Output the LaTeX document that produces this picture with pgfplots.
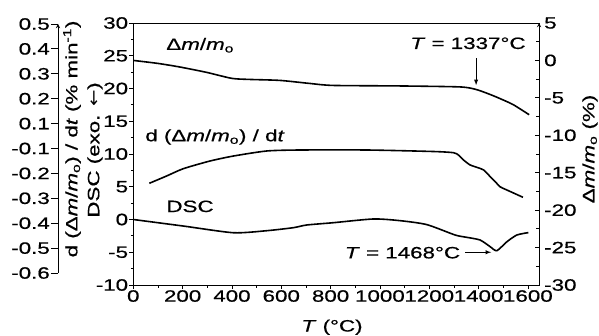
\documentclass[border=0pt]{standalone}
\usepackage{fontspec}
\setmainfont{Liberation Sans}[FakeStretch=1.36, FakeBold=0.6]
\newfontfamily\dejavu{DejaVu Sans}[FakeStretch=1.2]
\usepackage{pgfplots}
\pgfplotsset{compat=1.18}

\pgfplotstableread{
T v
0 0.0
100 -0.40
189 -0.88
298 -1.60
400 -2.40
473 -2.54
595 -2.67
717 -3.08
810 -3.34
1082 -3.41
1325 -3.54
1390 -3.88
1447 -4.55
1487 -5.10
1540 -5.90
1605 -7.25
}\massloss

\pgfplotstableread{
T v
65 5.53
135 6.64
203 7.76
311 8.93
406 9.69
541 10.46
676 10.61
947 10.61
1217 10.38
1298 10.20
1318 9.85
1339 9.08
1366 8.32
1393 7.97
1420 7.57
1447 6.55
1467 5.80
1487 5.00
1515 4.50
1580 3.39
}\deriv

\pgfplotstableread{
T v
0 0.0
203 -1.00
406 -2.02
541 -1.71
649 -1.25
703 -0.84
811 -0.49
974 0.08
1082 -0.18
1190 -0.78
1305 -2.37
1352 -2.72
1406 -3.13
1447 -4.15
1474 -4.76
1515 -3.39
1555 -2.37
1602 -2.00
}\dsc

\pgfplotsset{
  every axis/.append style={font=\fontsize{16.5}{19}\selectfont},
  myaxis/.style={
    scale only axis,
    /pgf/number format/assume math mode=true,
    /pgf/number format/1000 sep={},
    every tick/.style={black, line width=0.8bp},
    axis line style={line width=0.9bp},
    x axis line style={-}, y axis line style={-},
  },
}

\begin{document}
\begin{tikzpicture}[font=\fontsize{16.5}{19}\selectfont]
\useasboundingbox (0,0) rectangle (599bp,336bp);

% outer left axis: d(dm/m0)/dt
\begin{axis}[myaxis,
  at={(58bp,63bp)}, anchor=south west,
  width=20bp, height=249bp,
  xmin=0, xmax=1, ymin=0, ymax=10,
  axis x line=none, axis y line=left,
  ytick={0,1,...,10},
  yticklabels={-0.6,-0.5,-0.4,-0.3,-0.2,-0.1,0.1,0.2,0.3,0.4,0.5},
  tick align=outside, major tick length=7bp,
  yticklabel style={inner sep=1bp},
]
\end{axis}

% main axis: DSC
\begin{axis}[myaxis,
  at={(133.3bp,51bp)}, anchor=south west,
  width=405.7bp, height=262bp,
  xmin=0, xmax=1645, ymin=-10, ymax=30,
  xtick={0,200,...,1600}, minor x tick num=1,
  ytick={-10,-5,...,30}, minor y tick num=1,
  tick pos=left, tick align=outside,
  major tick length=4bp, minor tick length=2.5bp,
  xticklabel style={inner sep=1bp},
  yticklabel style={inner sep=1bp},
  clip=false,
]
\addplot[black, line width=1.6bp, smooth, tension=0.4] table[x=T,y=v] {\deriv};
\addplot[black, line width=1.6bp, smooth, tension=0.4] table[x=T,y=v] {\dsc};
\node at (axis cs:271,26.6) {Δ\textit{m}/\textit{m}\textsubscript{o}};
\node at (axis cs:331,12.6) {d (Δ\textit{m}/\textit{m}\textsubscript{o}) / d\textit{t}};
\node at (axis cs:230,2.0) {DSC};
\node at (axis cs:1357,26.9) {\textit{T} = 1337°C};
\draw[-latex, line width=0.9bp] (axis cs:1390,24.6) -- (axis cs:1390,20.5);
\node[anchor=east, inner sep=0pt] at (axis cs:1326,-5.07) {\textit{T} = 1468°C};
\draw[-latex, line width=0.9bp] (axis cs:1345,-5.0) -- (axis cs:1451,-5.0);
\end{axis}

% right axis: mass loss
\begin{axis}[myaxis,
  at={(133.3bp,51bp)}, anchor=south west,
  width=405.7bp, height=262bp,
  xmin=0, xmax=1645, ymin=-30, ymax=5,
  axis x line=none, axis y line=right,
  ytick={-30,-25,...,5}, minor y tick num=1,
  tick align=inside,
  major tick length=4bp, minor tick length=3bp,
  yticklabel style={inner sep=1bp, xshift=4bp},
]
\addplot[black, line width=1.6bp, smooth, tension=0.4] table[x=T,y=v] {\massloss};
\end{axis}

\node[rotate=90] at (72bp,197bp) {d (Δ\textit{m}/\textit{m}\textsubscript{o}) / d\textit{t} (\% min\textsuperscript{-1})};
\node[rotate=90] at (95bp,186bp) {DSC (exo. {\dejavu ←})};
\node[rotate=90] at (590bp,187bp) {Δ\textit{m}/\textit{m}\textsubscript{o} (\%)};
\node[anchor=base] at (332bp,4.5bp) {\textit{T} (°C)};
\end{tikzpicture}
\end{document}
